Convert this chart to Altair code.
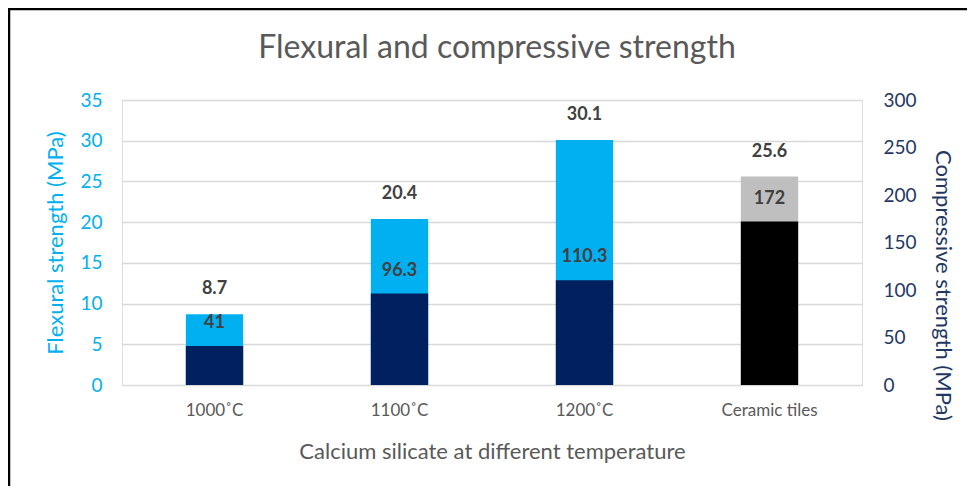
import altair as alt
import pandas as pd

categories = ["1000˚C", "1100˚C", "1200˚C", "Ceramic tiles"]
flexural = [8.7, 20.4, 30.1, 25.6]
compressive = [41, 96.3, 110.3, 172]
chart_title = "Flexural and compressive strength"

df = pd.DataFrame({"cat": categories, "flex": flexural, "comp": compressive})
one = pd.DataFrame({"t": [chart_title]})

FONT = "Lato"
xenc = alt.X("cat:N", sort=categories,
             scale=alt.Scale(paddingInner=0.69, paddingOuter=0.345),
             axis=alt.Axis(title="Calcium silicate at different temperature", labelAngle=0,
                           domain=True, domainColor="#D9D9D9", ticks=False,
                           labelFontSize=17, labelColor="#595959", labelPadding=17,
                           titleFontSize=22, titleColor="#595959", titleFontWeight="normal",
                           titlePadding=23, labelFont=FONT, titleFont=FONT))

is_cer = alt.datum.cat == "Ceramic tiles"

yflex = alt.Y("flex:Q", scale=alt.Scale(domain=[0, 35]),
              axis=alt.Axis(title="Flexural strength (MPa)", values=list(range(0, 36, 5)),
                            domain=False, ticks=False, grid=True, gridColor="#D9D9D9",
                            gridWidth=1.5, labelColor="#00B0F0", titleColor="#00B0F0",
                            labelFontSize=19, titleFontSize=22, titleFontWeight="normal",
                            labelPadding=20, titlePadding=12, labelFont=FONT, titleFont=FONT))

ycomp = alt.Y("comp:Q", scale=alt.Scale(domain=[0, 300]),
              axis=alt.Axis(title="Compressive strength (MPa)", orient="right",
                            values=list(range(0, 301, 50)),
                            domain=False, ticks=False, grid=False,
                            labelColor="#1F3864", titleColor="#1F3864",
                            labelFontSize=19, titleFontSize=22, titleFontWeight="normal",
                            labelPadding=21, titlePadding=14, titleY=185,
                            labelFont=FONT, titleFont=FONT))

base = alt.Chart(df)

flex_bars = base.mark_bar().encode(
    x=xenc, y=yflex,
    color=alt.condition(is_cer, alt.value("#BFBFBF"), alt.value("#00B0F0")))
flex_text = base.mark_text(dy=-25, fontSize=18, fontWeight="bold", color="#404040",
                           font=FONT, baseline="middle").encode(
    x=alt.X("cat:N", sort=categories), y=alt.Y("flex:Q"), text=alt.Text("flex:Q"))
flex_layer = alt.layer(flex_bars, flex_text)

comp_bars = base.mark_bar().encode(
    x=alt.X("cat:N", sort=categories), y=ycomp,
    color=alt.condition(is_cer, alt.value("#000000"), alt.value("#002060")))
comp_text = base.mark_text(dy=-23, fontSize=18, fontWeight="bold", color="#404040",
                           font=FONT, baseline="middle").encode(
    x=alt.X("cat:N", sort=categories), y=alt.Y("comp:Q"), text=alt.Text("comp:Q"))
comp_layer = alt.layer(comp_bars, comp_text)

ob = alt.Chart(one)
title_mark = ob.mark_text(fontSize=32, color="#595959", font=FONT, baseline="middle").encode(
    x=alt.value(375), y=alt.value(-52), text="t:N")
top_line = ob.mark_rule(color="#000000", strokeWidth=2.5).encode(
    x=alt.value(-114), x2=alt.value(845), y=alt.value(-91))
left_line = ob.mark_rule(color="#000000", strokeWidth=2.5).encode(
    x=alt.value(-113), y=alt.value(-92), y2=alt.value(388))
bottom_line = ob.mark_rule(color="#E6E6E6", strokeWidth=1).encode(
    x=alt.value(-114), x2=alt.value(845), y=alt.value(387))

chart = alt.layer(flex_layer, comp_layer, title_mark, top_line, left_line, bottom_line
                  ).resolve_scale(y="independent").properties(
    width=740, height=285,
    autosize=alt.AutoSizeParams(type="none"),
    padding={"left": 114, "top": 92, "right": 105, "bottom": 101},
).configure_view(stroke=None).configure(background="white")

chart.save("out.html", embed_options={"renderer": "svg", "actions": False})
